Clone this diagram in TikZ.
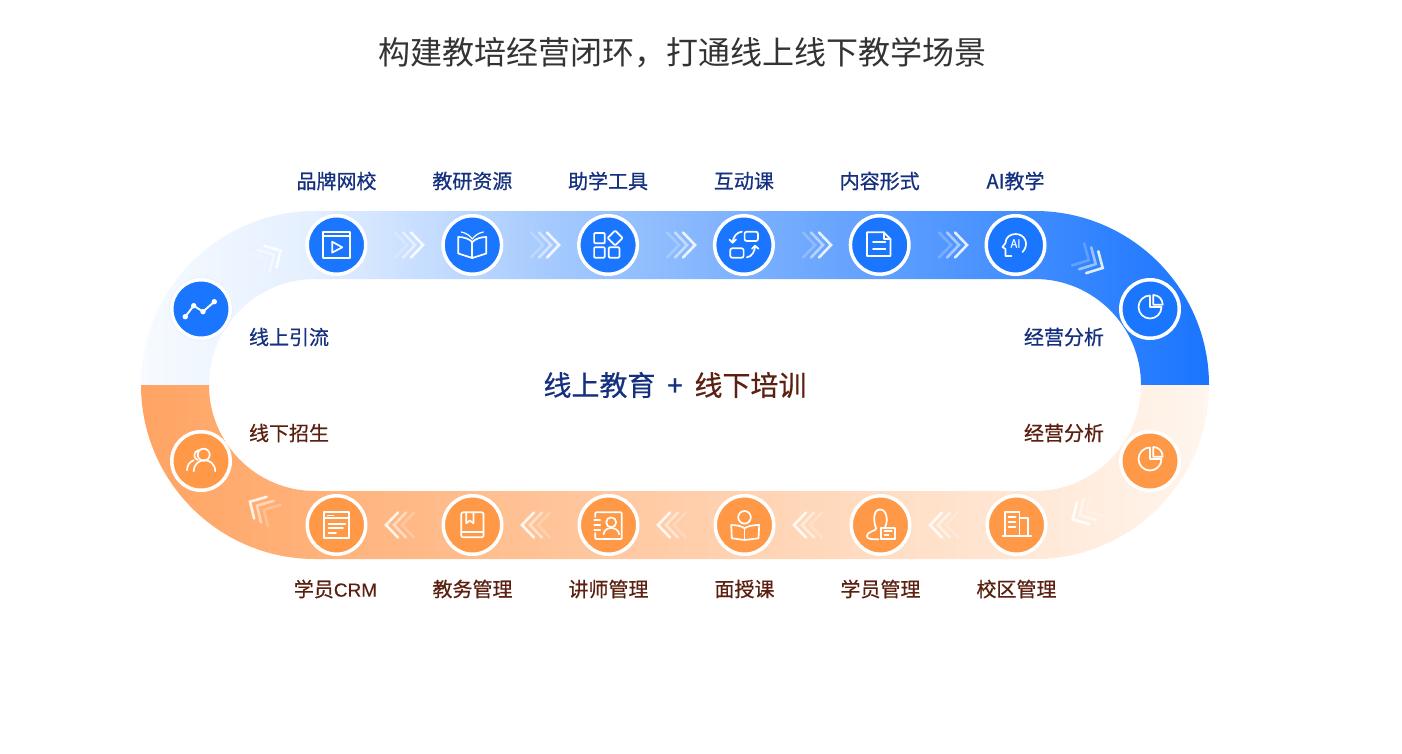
\documentclass[tikz,border=0pt]{standalone}
\usepackage{fontspec}
\setmainfont{Noto Sans CJK SC}
\newfontfamily\labelfont[FakeBold=0.6]{Noto Sans CJK SC}
\newfontfamily\latinfont[FakeBold=0.3]{Liberation Sans}
\usetikzlibrary{positioning}
\definecolor{blueband}{HTML}{1A75FF}
\definecolor{paleblue}{HTML}{F7FBFF}
\definecolor{bluestop}{HTML}{E4EFFF}
\definecolor{bluemid}{HTML}{A6CAFE}
\definecolor{orangeband}{HTML}{FFA463}
\definecolor{paleorange}{HTML}{FFF6EE}
\definecolor{orangenode}{HTML}{FF9947}
\definecolor{navytext}{HTML}{14307F}
\definecolor{browntext}{HTML}{5B2010}
\definecolor{titletext}{HTML}{333333}
\pgfdeclarehorizontalshading{upperband}{100bp}{color(0bp)=(paleblue); color(25bp)=(paleblue); color(33bp)=(bluestop); color(44bp)=(bluemid); color(75bp)=(blueband); color(100bp)=(blueband)}
\tikzset{
  line/.style={draw=white,line width=1.7pt,line join=round,line cap=round,fill=none},
  pics/chev/.style={code={
    \foreach \d/\o in {0/.85,8/.5,16/.22}
      \draw[white,line width=2.6pt,line cap=round,opacity=\o,xshift=-\d pt] (-12,-12.5) -- (0,0) -- (-12,12.5);
  }},
  pics/iconplay/.style={code={
    \draw[line] (-13.3,-13.3) rectangle (13.3,13.3);
    \draw[line] (-13.3,-9) -- (13.3,-9);
    \draw[line] (-4.3,-3.3) -- (5.7,2.3) -- (-4.3,7.6) -- cycle;
  }},
  pics/iconbook/.style={code={
    \draw[line] (-14,-8) -- (-14,8.5) -- (0,13) -- (14,8.5) -- (14,-8);
    \draw[line] (-14,-8) .. controls (-8,-8) and (-3,-6) .. (0,-3) .. controls (3,-6) and (8,-8) .. (14,-8);
    \draw[line] (0,-3) -- (0,13);
    \draw[line,line width=1.2pt] (-11,-13) .. controls (-6,-12) and (-2,-9) .. (0,-6) .. controls (2,-9) and (6,-12) .. (11,-13);
  }},
  pics/iconparts/.style={code={
    \draw[line,rounded corners=1pt] (-14,-12) rectangle (-3.3,-1.7);
    \draw[line,rounded corners=1pt] (-14,2.3) rectangle (-3.3,12.7);
    \draw[line,rounded corners=1pt] (0.7,2.3) rectangle (11.3,12.7);
    \draw[line,rounded corners=1pt] (7,-14.5) -- (14.5,-7) -- (7,0.5) -- (-0.5,-7) -- cycle;
  }},
  pics/iconswap/.style={code={
    \draw[line,rounded corners=2pt] (0.7,-13.3) rectangle (14,-4);
    \draw[line,rounded corners=2pt] (-13.7,3.3) rectangle (-0.3,12.7);
    \draw[line] (-2,-13.3) .. controls (-7,-13) and (-11,-8) .. (-11.3,-2.3);
    \draw[line] (-14.5,-5.5) -- (-11.3,-2.3) -- (-8,-5.5);
    \draw[line] (3,12.3) .. controls (8,12) and (11,6) .. (11.3,0.7);
    \draw[line] (8,3.8) -- (11.3,0.7) -- (14.5,3.8);
  }},
  pics/icondoc/.style={code={
    \draw[line] (-12.7,-12.7) -- (4,-12.7) -- (10.7,-6) -- (10.7,11) -- (-12.7,11) -- cycle;
    \draw[line] (4,-12.7) -- (4,-6) -- (10.7,-6);
    \draw[line] (-6.7,-2.7) -- (5.7,-2.7);
    \draw[line] (-6.7,4.3) -- (5.7,4.3);
  }},
  pics/iconai/.style={code={
    \draw[line] (7,7) .. controls (14,0) and (10,-11) .. (0,-11) .. controls (-6,-11) and (-10,-7) .. (-10,-2) -- (-13,2) -- (-10,4) -- (-10,11) -- (-4,11);
    \node[text=white,font=\fontsize{11}{11}\selectfont\labelfont] (aitext) at (0,-1.5) {AI};
  }},
  pics/iconpie/.style={code={
    \draw[line] (0,-13.5) .. controls (-6.35,-13.5) and (-11.5,-8.35) .. (-11.5,-2) .. controls (-11.5,4.35) and (-6.35,9.5) .. (0,9.5) .. controls (6.35,9.5) and (11.5,4.35) .. (11.5,-2) -- (0,-2) -- cycle;
    \draw[line] (3.3,-14) .. controls (8.5,-14) and (12.7,-9.8) .. (12.7,-4.3) -- (3.3,-4.3) -- cycle;
  }},
  pics/icontrend/.style={code={
    \draw[line,line width=1.9pt] (-15.7,7.7) -- (-7.3,-3.3) -- (2,2.7) -- (13.3,-7.3);
    \foreach \p in {(-15.7,7.7),(-7.3,-3.3),(2,2.7),(13.3,-7.3)}
      \fill[white] \p circle (2.7pt);
  }},
  pics/iconpeople/.style={code={
    \draw[line] (2.7,-6.3) circle (6pt);
    \draw[line] (-7.3,10.3) .. controls (-7,3) and (-2,-0.8) .. (3.5,-0.8) .. controls (9,-0.8) and (14,3) .. (14.3,10.3);
    \draw[line] (-3.2,-1) .. controls (-8,-2) and (-8,-10) .. (-2,-11);
    \draw[line] (-14,9.3) .. controls (-14,4) and (-11,0.5) .. (-7.3,-0.7);
  }},
  pics/iconcrm/.style={code={
    \draw[line] (-12.3,-12.7) rectangle (12.7,13.3);
    \draw[line] (-12.3,-6.7) -- (12.7,-6.7);
    \draw[line,line width=1pt] (-9,-9.7) -- (-3,-9.7);
    \draw[line] (-8,-1.3) -- (8.7,-1.3);
    \draw[line] (-8,3.3) -- (6.5,3.3);
    \draw[line] (-8,8) -- (-0.5,8);
  }},
  pics/iconmanual/.style={code={
    \draw[line,rounded corners=2pt] (-11.3,-12.7) rectangle (11,12.3);
    \draw[line] (-11.3,7.3) -- (11,7.3);
    \draw[line] (-6.3,-12.7) -- (-6.3,-1.7) -- (-2.7,-4.5) -- (1,-1.7) -- (1,-12.7);
  }},
  pics/iconcard/.style={code={
    \draw[line,rounded corners=1pt] (-13.3,-8) -- (-13.3,-12.7) -- (13.3,-12.7) -- (13.3,14) -- (-13.3,14) -- (-13.3,8);
    \draw[line] (-14.3,-5) -- (-8.3,-5);
    \draw[line] (-14.3,0) -- (-8.3,0);
    \draw[line] (-14.3,5) -- (-8.3,5);
    \draw[line] (2.7,-2.7) circle (5pt);
    \draw[line] (-5,9.3) .. controls (-4.5,5) and (-1,3) .. (2.7,3) .. controls (6.5,3) and (10,5) .. (10.7,9.3);
  }},
  pics/iconreader/.style={code={
    \draw[line] (0,-7.7) circle (6.3pt);
    \draw[line] (-13.3,0) -- (-12.7,13.3) -- (0,15) -- (14,13.3) -- (14.7,0);
    \draw[line] (-13.3,0) .. controls (-8,0) and (-3,1) .. (0,3.3) .. controls (3,1) and (9,0) .. (14.7,0);
    \draw[line] (0,3.3) -- (0,15);
  }},
  pics/iconperson/.style={code={
    \draw[line] (4.7,1.5) .. controls (7.5,-3) and (7,-15.5) .. (-0.5,-15.5) .. controls (-8,-15.5) and (-7,-2) .. (-4.3,3.3) .. controls (-4,6) and (-13.7,6.5) .. (-13.7,11) .. controls (-13.7,14.3) and (-8,14.3) .. (-2,14.3);
    \draw[line] (0.7,2.7) rectangle (14.7,14);
    \draw[line] (4,6) -- (11.3,6);
    \draw[line] (4,10) -- (8,10);
  }},
  pics/iconbuilding/.style={code={
    \draw[line] (-11.3,11) -- (-11.3,-13.3) -- (3,-13.3) -- (3,11);
    \draw[line] (3,-6.7) -- (11.3,-6.7) -- (11.3,11);
    \draw[line] (-14,11) -- (14.7,11);
    \draw[line] (-8,-8.3) -- (-1,-8.3);
    \draw[line] (-8,-3.3) -- (-1,-3.3);
    \draw[line] (-8,1.7) -- (-1,1.7);
  }}
}
\begin{document}
\begin{tikzpicture}[x=1pt,y=-1pt,node distance=135.8pt,inner sep=0pt]
  \tikzstyle{every node}=[font=\fontsize{20}{24}\selectfont\labelfont]
  \tikzstyle{bluedot}=[circle,fill=blueband,draw=white,line width=3.5pt,minimum size=58.5pt]
  \tikzstyle{orangedot}=[circle,fill=orangenode,draw=white,line width=3.5pt,minimum size=58.5pt]
  \tikzstyle{bluetext}=[text=navytext]
  \tikzstyle{browntext}=[text=browntext]
\useasboundingbox (0,0) rectangle (1402,754);
\fill[white] (0,0) rectangle (1402,754);

% the two halves of the ring
\path[shading=upperband] (141,385) .. controls (141,288.9) and (218.9,211) .. (315,211) -- (1035,211) .. controls (1131.1,211) and (1209,288.9) .. (1209,385) -- (1141,385) .. controls (1141,326.5) and (1093.5,279) .. (1035,279) -- (315,279) .. controls (256.5,279) and (209,326.5) .. (209,385) -- cycle;
\path[left color=orangeband,right color=paleorange] (141,385) .. controls (141,481.1) and (218.9,559) .. (315,559) -- (1035,559) .. controls (1131.1,559) and (1209,481.1) .. (1209,385) -- (1141,385) .. controls (1141,443.5) and (1093.5,491) .. (1035,491) -- (315,491) .. controls (256.5,491) and (209,443.5) .. (209,385) -- cycle;

% chevrons
\foreach \x in {423,559,695,831,967}
  \pic at (\x,245) {chev};
\foreach \x in {386,522,658,794,930}
  \pic[rotate=180] at (\x,525) {chev};
\pic[rotate=30] at (280.7,250.7) {chev};
\pic[rotate=-29] at (1102.7,268) {chev};
\pic[rotate=150] at (250,501.7) {chev};
\pic[rotate=210] at (1072.7,519.3) {chev};

% upper half
\node [bluedot,preaction={draw=blueband!12,line width=5pt}] (t0) at (201,309) {};
\node [bluedot] (t1) at (336.5,245) {};
\node [bluedot] [right of=t1] (t2) {};
\node [bluedot] [right of=t2] (t3) {};
\node [bluedot] [right of=t3] (t4) {};
\node [bluedot] [right of=t4] (t5) {};
\node [bluedot] [right of=t5] (t6) {};
\node [bluedot] (t7) at (1150,309) {};

% lower half
\node [orangedot] (b0) at (201,461) {};
\node [orangedot] (b1) at (336.5,525) {};
\node [orangedot] [right of=b1,node distance=136pt] (b2) {};
\node [orangedot] [right of=b2,node distance=136pt] (b3) {};
\node [orangedot] [right of=b3,node distance=136pt] (b4) {};
\node [orangedot] [right of=b4,node distance=136pt] (b5) {};
\node [orangedot] [right of=b5,node distance=136pt] (b6) {};
\node [orangedot] (b7) at (1150,461) {};

% icons
\pic at (t0.center) {icontrend};
\pic at (t1.center) {iconplay};
\pic at (t2.center) {iconbook};
\pic at (t3.center) {iconparts};
\pic at (t4.center) {iconswap};
\pic at (t5.center) {icondoc};
\pic at (t6.center) {iconai};
\pic at (t7.center) {iconpie};
\pic at (b0.center) {iconpeople};
\pic at (b1.center) {iconcrm};
\pic at (b2.center) {iconmanual};
\pic at (b3.center) {iconcard};
\pic at (b4.center) {iconreader};
\pic at (b5.center) {iconperson};
\pic at (b6.center) {iconbuilding};
\pic at (b7.center) {iconpie};

% labels
\node [bluetext,above of=t1,node distance=64pt] (lt1) {品牌网校};
\node [bluetext,above of=t2,node distance=64pt] (lt2) {教研资源};
\node [bluetext,above of=t3,node distance=64pt] (lt3) {助学工具};
\node [bluetext,above of=t4,node distance=64pt] (lt4) {互动课};
\node [bluetext,above of=t5,node distance=64pt] (lt5) {内容形式};
\node [bluetext,above of=t6,node distance=64pt] (lt6) {AI教学};
\node [browntext,below of=b1,node distance=64pt,xshift=-1pt] (lb1) {学员{\latinfont\fontsize{19}{24}\selectfont CRM}};
\node [browntext,below of=b2,node distance=64pt] (lb2) {教务管理};
\node [browntext,below of=b3,node distance=64pt] (lb3) {讲师管理};
\node [browntext,below of=b4,node distance=64pt] (lb4) {面授课};
\node [browntext,below of=b5,node distance=64pt] (lb5) {学员管理};
\node [browntext,below of=b6,node distance=64pt] (lb6) {校区管理};
\node [bluetext] (l0) at (289,337) {线上引流};
\node [browntext] (l1) at (289,433) {线下招生};
\node [bluetext] (r0) at (1064,337) {经营分析};
\node [browntext] (r1) at (1064,433) {经营分析};

\node [font=\fontsize{32}{38}\selectfont\rmfamily,text=titletext] (title) at (682,53) {构建教培经营闭环^^^^ff0c打通线上线下教学场景};
\node [font=\fontsize{28}{34}\selectfont\labelfont] (mid) at (675,385) {\textcolor{navytext}{线上教育\makebox[39pt]{+}}\textcolor{browntext}{线下培训}};
\end{tikzpicture}
\end{document}
